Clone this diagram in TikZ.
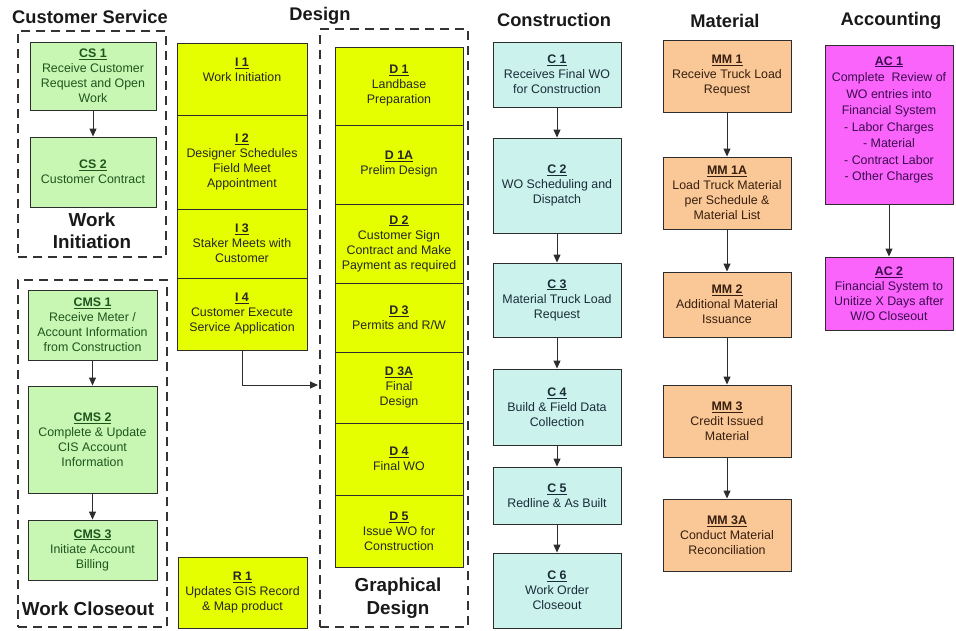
\documentclass[tikz,border=0pt]{standalone}
\usepackage{fontspec}
\setmainfont{Liberation Sans}
\usetikzlibrary{arrows.meta}
\definecolor{gfill}{RGB}{200,247,180}
\definecolor{gtext}{RGB}{30,85,30}
\definecolor{yfill}{RGB}{230,255,0}
\definecolor{cfill}{RGB}{204,242,238}
\definecolor{ctext}{RGB}{25,45,55}
\definecolor{ofill}{RGB}{250,200,150}
\definecolor{otext}{RGB}{55,30,15}
\definecolor{mfill}{RGB}{250,100,250}
\definecolor{mtext}{RGB}{60,10,80}
\definecolor{edge}{RGB}{45,45,45}
\newcommand{\lbl}[1]{\underline{\textbf{#1}}}
\tikzset{
  box/.style={draw=edge, line width=0.9pt, rectangle, align=center, inner sep=1pt,
    font=\fontsize{12.4}{15}\selectfont},
  gbox/.style={box, fill=gfill, text=gtext},
  ybox/.style={box, fill=yfill, text=black!85},
  cbox/.style={box, fill=cfill, text=ctext},
  obox/.style={box, fill=ofill, text=otext},
  mbox/.style={box, fill=mfill, text=mtext},
  group/.style={draw=black!80, line width=1.6pt, dash pattern=on 9pt off 6pt, rectangle, inner sep=0pt},
  title/.style={font=\bfseries\fontsize{18.3}{21}\selectfont, text=black!90},
  gtitle/.style={font=\bfseries\fontsize{18.8}{22.5}\selectfont, text=black!90, align=center},
  arr/.style={draw=edge, line width=1pt, -{Triangle[length=8pt,width=7pt]}},
}
\begin{document}
\begin{tikzpicture}[x=1pt,y=-1pt]
\useasboundingbox (0,0) rectangle (956,630);
% titles
\node[title] (tcs) at (90,17) {Customer Service};
\node[title] (tds) at (320,16) {Design};
\node[title] (tco) at (554,20) {Construction};
\node[title] (tma) at (725,21) {Material};
\node[title] (tac) at (891,21) {Accounting};
% group boxes
\node[group, minimum width=148pt, minimum height=226pt] (wi) at (92,144) {};
\node[group, minimum width=149pt, minimum height=347pt] (wc) at (92.5,453.5) {};
\node[group, minimum width=148pt, minimum height=598pt] (gd) at (394,328) {};
\node[gtitle] (wit) at (92,231) {Work\\Initiation};
\node[gtitle] (wct) at (88,609) {Work Closeout};
\node[gtitle] (gdt) at (398,598) {Graphical\\Design};
% customer service
\node[gbox, minimum width=126pt, minimum height=68pt] (cs1) at (93,76) {\lbl{CS 1}\\Receive Customer\\Request and Open\\Work};
\node[gbox, minimum width=126pt, minimum height=70pt] (cs2) at (93,172) {\lbl{CS 2}\\Customer Contract};
\node[gbox, minimum width=129pt, minimum height=70pt] (cms1) at (92.5,325) {\lbl{CMS 1}\\Receive Meter /\\Account Information\\from Construction};
\node[gbox, minimum width=129pt, minimum height=107pt] (cms2) at (92.5,439.5) {\lbl{CMS 2}\\Complete \& Update\\CIS Account\\Information};
\node[gbox, minimum width=129pt, minimum height=60pt] (cms3) at (92.5,550) {\lbl{CMS 3}\\Initiate Account\\Billing};
% I column
\node[ybox, minimum width=130pt, minimum height=72pt, text depth=18pt] (i1) at (242,79) {\lbl{I 1}\\Work Initiation};
\node[ybox, minimum width=130pt, minimum height=94pt] (i2) at (242,162) {\lbl{I 2}\\Designer Schedules\\Field Meet\\Appointment};
\node[ybox, minimum width=130pt, minimum height=69pt] (i3) at (242,243.5) {\lbl{I 3}\\Staker Meets with\\Customer};
\node[ybox, minimum width=130pt, minimum height=72pt] (i4) at (242,314) {\lbl{I 4}\\Customer Execute\\Service Application};
\node[ybox, minimum width=129pt, minimum height=71pt] (r1) at (242.5,592.5) {\lbl{R 1}\\Updates GIS Record\\\& Map product};
% D column
\node[ybox, minimum width=128pt, minimum height=78pt] (d1) at (399,86) {\lbl{D 1}\\Landbase\\Preparation};
\node[ybox, minimum width=128pt, minimum height=79pt] (d1a) at (399,164.5) {\lbl{D 1A}\\Prelim Design};
\node[ybox, minimum width=128pt, minimum height=79pt] (d2) at (399,243.5) {\lbl{D 2}\\Customer Sign\\Contract and Make\\Payment as required};
\node[ybox, minimum width=128pt, minimum height=69pt] (d3) at (399,317.5) {\lbl{D 3}\\Permits and R/W};
\node[ybox, minimum width=128pt, minimum height=71pt] (d3a) at (399,387.5) {\lbl{D 3A}\\Final\\Design};
\node[ybox, minimum width=128pt, minimum height=72pt] (d4) at (399,459) {\lbl{D 4}\\Final WO};
\node[ybox, minimum width=128pt, minimum height=72pt] (d5) at (399,531) {\lbl{D 5}\\Issue WO for\\Construction};
% construction
\node[cbox, minimum width=128pt, minimum height=65pt] (c1) at (557,74.5) {\lbl{C 1}\\Receives Final WO\\for Construction};
\node[cbox, minimum width=128pt, minimum height=95pt] (c2) at (557,185.5) {\lbl{C 2}\\WO Scheduling and\\Dispatch};
\node[cbox, minimum width=128pt, minimum height=74pt] (c3) at (557,300) {\lbl{C 3}\\Material Truck Load\\Request};
\node[cbox, minimum width=128pt, minimum height=76pt] (c4) at (557,407) {\lbl{C 4}\\Build \& Field Data\\Collection};
\node[cbox, minimum width=128pt, minimum height=57pt] (c5) at (557,495.5) {\lbl{C 5}\\Redline \& As Built};
\node[cbox, minimum width=128pt, minimum height=75pt] (c6) at (557,590.5) {\lbl{C 6}\\Work Order\\Closeout};
% material
\node[obox, minimum width=128pt, minimum height=72pt] (mm1) at (727,76) {\lbl{MM 1}\\Receive Truck Load\\Request};
\node[obox, minimum width=128pt, minimum height=72pt] (mm1a) at (727,193) {\lbl{MM 1A}\\Load Truck Material\\per Schedule \&\\Material List};
\node[obox, minimum width=128pt, minimum height=65pt] (mm2) at (727,304.5) {\lbl{MM 2}\\Additional Material\\Issuance};
\node[obox, minimum width=128pt, minimum height=72pt] (mm3) at (727,421) {\lbl{MM 3}\\Credit Issued\\Material};
\node[obox, minimum width=128pt, minimum height=72pt] (mm3a) at (727,535) {\lbl{MM 3A}\\Conduct Material\\Reconciliation};
% accounting
\node[mbox, minimum width=128pt, minimum height=159pt, font=\fontsize{12.4}{16.5}\selectfont, text depth=12pt] (ac1) at (889,124.5) {\lbl{AC 1}\\Complete\ \ Review of\\WO entries into\\Financial System\\- Labor Charges\\- Material\\- Contract Labor\\- Other Charges};
\node[mbox, minimum width=128pt, minimum height=73pt] (ac2) at (889,293.5) {\lbl{AC 2}\\Financial System to\\Unitize X Days after\\W/O Closeout};
% connectors
\draw[arr] (cs1) -- (cs2);
\draw[arr] (cms1) -- (cms2);
\draw[arr] (cms2) -- (cms3);
\draw[arr] (c1) -- (c2);
\draw[arr] (c2) -- (c3);
\draw[arr] (c3) -- (c4);
\draw[arr] (c4) -- (c5);
\draw[arr] (c5) -- (c6);
\draw[arr] (mm1) -- (mm1a);
\draw[arr] (mm1a) -- (mm2);
\draw[arr] (mm2) -- (mm3);
\draw[arr] (mm3) -- (mm3a);
\draw[arr] (ac1) -- (ac2);
\coordinate (gdin) at (318,385);
\draw[arr] (i4.south) |- (gdin);
\end{tikzpicture}
\end{document}
